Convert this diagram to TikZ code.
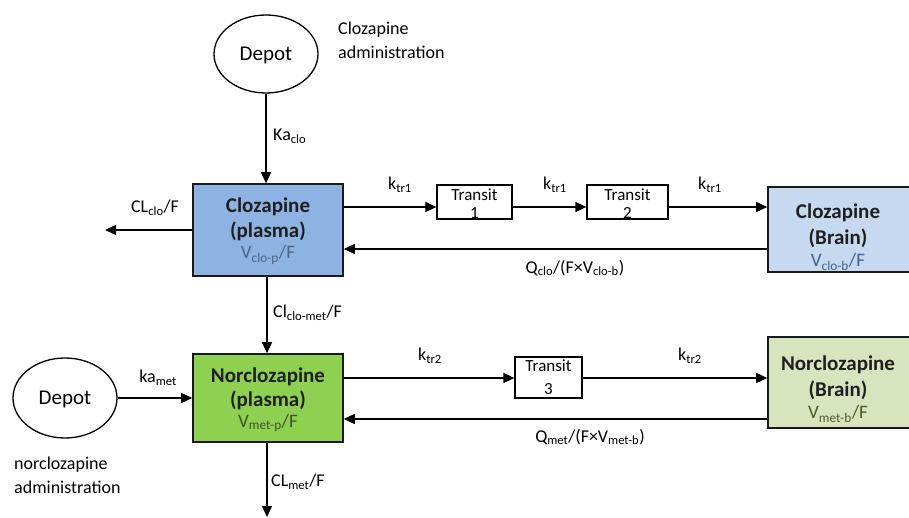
\documentclass[tikz,border=0pt]{standalone}
\usepackage{fontspec}
\setmainfont{Carlito}
\usetikzlibrary{arrows.meta,shapes.geometric}
\definecolor{pblue}{HTML}{8DB3E2}
\definecolor{bblue}{HTML}{C6D9F1}
\definecolor{pgreen}{HTML}{8ED04F}
\definecolor{bgreen}{HTML}{D7E4BD}
\definecolor{vblue}{HTML}{4A6588}
\definecolor{vbblue}{HTML}{42608A}
\definecolor{vgreen}{HTML}{3A5522}
\definecolor{vbgreen}{HTML}{4A5E24}
\newcommand\sbs[1]{\textsubscript{#1}}
\begin{document}
\begin{tikzpicture}[x=1pt,y=-1pt,
  comp/.style={draw=black!90,line width=1.6pt,inner sep=0pt},
  transit/.style={draw=black,line width=1.3pt,inner sep=0pt,fill=white},
  depot/.style={draw=black,line width=1.3pt,ellipse,inner sep=0pt},
  flow/.style={line width=1.4pt,-{Triangle[length=11pt,width=10pt]}},
  lab/.style={font=\fontsize{18}{21}\selectfont,inner sep=0pt},
  boxt/.style={font=\fontsize{21}{24}\selectfont\bfseries,inner sep=0pt,text=black!88},
  boxv/.style={font=\fontsize{19}{22}\selectfont,inner sep=0pt},
  trt/.style={font=\fontsize{17}{20}\selectfont,inner sep=0pt}]
\useasboundingbox (0,0) rectangle (909,518);

% depots
\node[depot,minimum width=104pt,minimum height=78pt] (dep1) at (266,54) {};
\node[inner sep=0pt,font=\fontsize{21}{24}\selectfont] (dep1t) at (266,55) {Depot};
\node[depot,minimum width=104pt,minimum height=80pt] (dep2) at (65,398) {};
\node[inner sep=0pt,font=\fontsize{21}{24}\selectfont] (dep2t) at (65,399) {Depot};
\node[lab,anchor=west] (adm1a) at (338,30) {Clozapine};
\node[lab,anchor=west] (adm1b) at (338,52) {administration};
\node[lab,anchor=west] (adm2a) at (14,465) {norclozapine};
\node[lab,anchor=west] (adm2b) at (14,487) {administration};

% compartments
\node[comp,fill=pblue,minimum width=150pt,minimum height=92pt] (cp) at (268,230) {};
\node[boxt] (cpt1) at (268,207) {Clozapine};
\node[boxt] (cpt2) at (268,231) {(plasma)};
\node[boxv,text=vblue] (cpt3) at (268,255) {V\sbs{clo-p}/F};

\node[comp,fill=pgreen,minimum width=150pt,minimum height=88pt] (np) at (268,398) {};
\node[boxt] (npt1) at (268,377) {Norclozapine};
\node[boxt] (npt2) at (268,400) {(plasma)};
\node[boxv,text=vgreen] (npt3) at (268,423) {V\sbs{met-p}/F};

\node[comp,fill=bblue,minimum width=144pt,minimum height=85pt] (cb) at (840,229.5) {};
\node[boxt] (cbt1) at (838,213) {Clozapine};
\node[boxt] (cbt2) at (838,238) {(Brain)};
\node[boxv,text=vbblue] (cbt3) at (838,262) {V\sbs{clo-b}/F};

\node[comp,fill=bgreen,minimum width=144pt,minimum height=91pt] (nb) at (840,382.5) {};
\node[boxt] (nbt1) at (838,365) {Norclozapine};
\node[boxt] (nbt2) at (838,390) {(Brain)};
\node[boxv,text=vbgreen] (nbt3) at (838,414) {V\sbs{met-b}/F};

% transit boxes
\node[transit,minimum width=75pt,minimum height=34pt] (t1) at (474.5,202) {};
\node[trt] at (474.5,195) {Transit};
\node[trt] at (474.5,213) {1};
\node[transit,minimum width=81pt,minimum height=34pt] (t2) at (627.5,202) {};
\node[trt] at (627.5,195) {Transit};
\node[trt] at (627.5,213) {2};
\node[transit,minimum width=67pt,minimum height=41pt] (t3) at (548.5,377.5) {};
\node[trt] at (548.5,366) {Transit};
\node[trt] at (548.5,389) {3};

% connectors
\coordinate (clout) at (105,230);
\coordinate (metout) at (267,517);
\draw[flow] (dep1.south) -- (dep1.south |- cp.north);
\node[lab,anchor=west] at (273,136) {Ka\sbs{clo}};
\draw[flow] (cp.west |- clout) -- (clout);
\node[lab] at (155,208) {CL\sbs{clo}/F};

\draw[flow] (cp.east |- 0,207) -- (t1.west |- 0,207);
\node[lab] at (400,185) {k\sbs{tr1}};
\draw[flow] (t1.east |- 0,207) -- (t2.west |- 0,207);
\node[lab] at (555,185) {k\sbs{tr1}};
\draw[flow] (t2.east |- 0,207) -- (cb.west |- 0,207);
\node[lab] at (710,185) {k\sbs{tr1}};
\draw[flow] (cb.west |- 0,249) -- (cp.east |- 0,249);
\node[lab] at (575,268) {Q\sbs{clo}/(F×V\sbs{clo-b})};

\draw[flow] (cp.south -| 267,0) -- (np.north -| 267,0);
\node[lab,anchor=west] at (273,313) {Cl\sbs{clo-met}/F};

\draw[flow] (dep2.east) -- (np.west |- dep2.east);
\node[lab] at (158,378) {ka\sbs{met}};

\draw[flow] (np.east |- 0,378) -- (t3.west |- 0,378);
\node[lab] at (430,356) {k\sbs{tr2}};
\draw[flow] (t3.east |- 0,378) -- (nb.west |- 0,378);
\node[lab] at (690,356) {k\sbs{tr2}};
\draw[flow] (nb.west |- 0,419) -- (np.east |- 0,419);
\node[lab] at (590,437) {Q\sbs{met}/(F×V\sbs{met-b})};

\draw[flow] (np.south -| metout) -- (metout);
\node[lab,anchor=west] at (271,482) {CL\sbs{met}/F};
\end{tikzpicture}
\end{document}
